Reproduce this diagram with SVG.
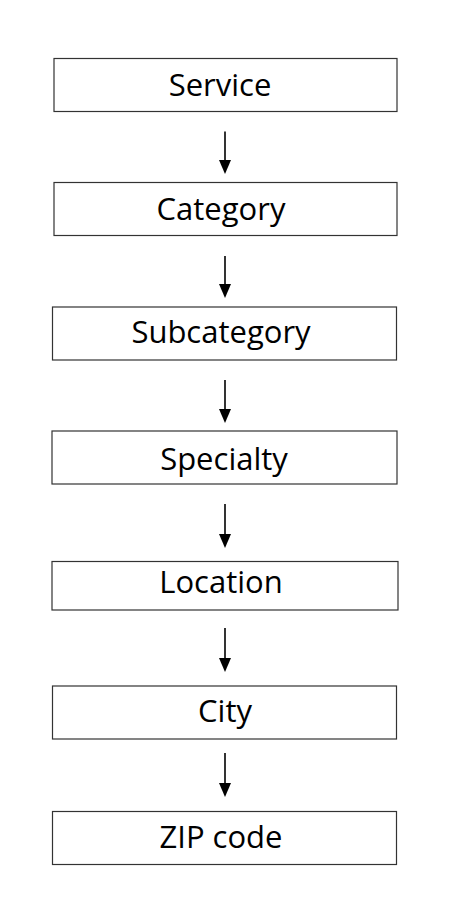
<svg xmlns="http://www.w3.org/2000/svg" width="450" height="900" viewBox="0 0 450 900">
<style>
.box{fill:#fff;stroke:#333;stroke-width:1.2}
.lbl{font-family:"Open Sans","Noto Sans",sans-serif;font-size:31px;fill:#000;text-anchor:middle}
.conn{stroke:#000;stroke-width:1.6;fill:none}
.head{fill:#000}
</style>
<rect width="450" height="900" fill="#fff"/>
<g id="connectors">
<line class="conn" x1="225" y1="131.5" x2="225" y2="160"/><path class="head" d="M219,160 L231,160 L225,174 Z"/>
<line class="conn" x1="225" y1="256" x2="225" y2="284"/><path class="head" d="M219,284 L231,284 L225,298 Z"/>
<line class="conn" x1="225" y1="380" x2="225" y2="409"/><path class="head" d="M219,409 L231,409 L225,423 Z"/>
<line class="conn" x1="225" y1="504" x2="225" y2="534"/><path class="head" d="M219,534 L231,534 L225,548 Z"/>
<line class="conn" x1="225" y1="628" x2="225" y2="658"/><path class="head" d="M219,658 L231,658 L225,672 Z"/>
<line class="conn" x1="225" y1="753" x2="225" y2="783"/><path class="head" d="M219,783 L231,783 L225,797 Z"/>
</g>
<g id="service"><rect class="box" x="54" y="58.5" width="343" height="53"/><text class="lbl" x="220" y="96">Service</text></g>
<g id="category"><rect class="box" x="54" y="182.5" width="343" height="53"/><text class="lbl" x="221" y="220">Category</text></g>
<g id="subcategory"><rect class="box" x="52.5" y="307" width="344" height="53"/><text class="lbl" x="221" y="343">Subcategory</text></g>
<g id="specialty"><rect class="box" x="52" y="431" width="345" height="53"/><text class="lbl" x="224" y="470">Specialty</text></g>
<g id="location"><rect class="box" x="52" y="561.5" width="346" height="48.5"/><text class="lbl" x="221" y="593">Location</text></g>
<g id="city"><rect class="box" x="52.5" y="686" width="344" height="53"/><text class="lbl" x="225" y="721.5">City</text></g>
<g id="zip"><rect class="box" x="52.5" y="811.5" width="344" height="53"/><text class="lbl" x="221" y="848">ZIP code</text></g>
</svg>
